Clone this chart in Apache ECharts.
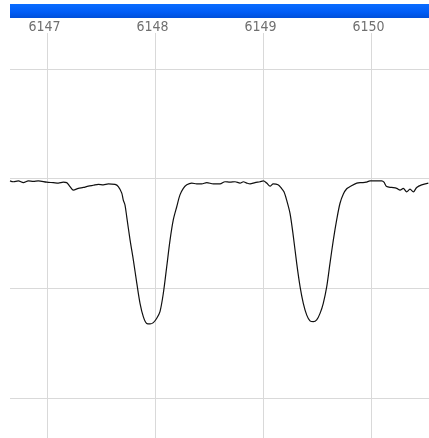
<!DOCTYPE html>
<html>
<head>
<meta charset="utf-8">
<script src="https://cdn.jsdelivr.net/npm/echarts@6/dist/echarts.min.js"></script>
<style>html,body{margin:0;padding:0;background:#fff}#c{width:429px;height:438px}</style>
</head>
<body>
<div id="c"></div>
<script>
// Wavelength (Å)
var wavelengths = [6146.657,6146.688,6146.734,6146.781,6146.827,6146.873,6146.919,6146.997,6147.058,6147.105,6147.151,6147.182,6147.213,6147.244,6147.290,6147.336,6147.382,6147.429,6147.475,6147.521,6147.568,6147.630,6147.660,6147.692,6147.706,6147.722,6147.738,6147.769,6147.799,6147.831,6147.861,6147.892,6147.923,6147.954,6147.984,6148.016,6148.046,6148.077,6148.108,6148.139,6148.169,6148.201,6148.231,6148.262,6148.294,6148.340,6148.386,6148.432,6148.479,6148.540,6148.602,6148.648,6148.694,6148.741,6148.787,6148.818,6148.849,6148.880,6148.926,6148.972,6149.003,6149.034,6149.065,6149.095,6149.139,6149.171,6149.194,6149.219,6149.250,6149.281,6149.312,6149.343,6149.373,6149.405,6149.435,6149.466,6149.497,6149.528,6149.558,6149.590,6149.620,6149.651,6149.682,6149.713,6149.744,6149.775,6149.806,6149.868,6149.914,6149.954,6149.991,6150.053,6150.099,6150.120,6150.145,6150.191,6150.238,6150.269,6150.299,6150.330,6150.361,6150.392,6150.423,6150.469,6150.531];
// Normalized flux
var flux = [0.995,0.993,0.995,0.991,0.995,0.994,0.995,0.992,0.991,0.990,0.992,0.991,0.982,0.974,0.978,0.980,0.983,0.985,0.987,0.986,0.988,0.987,0.982,0.967,0.951,0.940,0.913,0.860,0.815,0.762,0.716,0.685,0.670,0.669,0.672,0.682,0.697,0.739,0.799,0.860,0.906,0.936,0.963,0.978,0.986,0.990,0.988,0.988,0.991,0.988,0.988,0.993,0.992,0.993,0.990,0.993,0.990,0.988,0.991,0.993,0.995,0.990,0.983,0.988,0.986,0.978,0.970,0.951,0.921,0.868,0.807,0.754,0.716,0.689,0.676,0.674,0.678,0.693,0.716,0.754,0.807,0.860,0.906,0.944,0.965,0.977,0.982,0.990,0.991,0.992,0.995,0.995,0.995,0.992,0.982,0.980,0.978,0.974,0.978,0.970,0.976,0.970,0.980,0.986,0.990];
var xTicks = [6147, 6148, 6149, 6150];
var yTicks = [0.5, 0.75, 1.0, 1.25];

var data = wavelengths.map(function (w, i) { return [w, flux[i]]; });
var chart = echarts.init(document.getElementById('c'), null, {renderer: 'canvas'});
chart.setOption({
  animation: false,
  backgroundColor: '#ffffff',
  grid: {left: 10, right: 0, top: 33, bottom: 0, containLabel: false},
  xAxis: {
    type: 'value', position: 'top', min: 6146.657, max: 6150.537,
    axisLine: {show: false},
    axisTick: {show: false, customValues: xTicks},
    axisLabel: {customValues: xTicks, color: '#707070', fontSize: 14, fontFamily: 'DejaVu Sans Condensed', margin: -1, padding: [0, 5, 0, 0], formatter: function (v) { return String(v); }},
    splitLine: {show: true, lineStyle: {color: '#d9d9d9', width: 1}}
  },
  yAxis: {
    type: 'value', min: 0.409, max: 1.332,
    axisLine: {show: false},
    axisTick: {show: false, customValues: yTicks},
    axisLabel: {show: false, customValues: yTicks},
    splitLine: {show: true, lineStyle: {color: '#d9d9d9', width: 1}}
  },
  graphic: [{
    type: 'rect', left: 10, top: 4, shape: {width: 419, height: 14},
    style: {fill: new echarts.graphic.LinearGradient(0, 0, 0, 1, [
      {offset: 0, color: '#0a6cff'}, {offset: 0.6, color: '#005cf5'}, {offset: 1, color: '#004fd8'}])}
  }],
  series: [{
    type: 'line', data: data, showSymbol: false, smooth: 0.3,
    lineStyle: {color: '#111111', width: 1.2}
  }]
});
</script>
</body>
</html>
